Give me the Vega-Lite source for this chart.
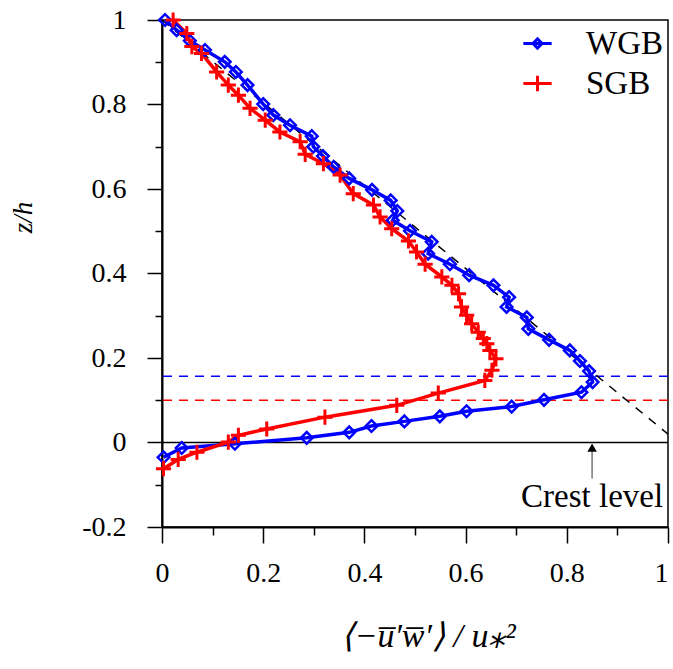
{
  "$schema": "https://vega.github.io/schema/vega-lite/v6.json",
  "width": 506,
  "height": 507,
  "autosize": "none",
  "padding": {"left": 162, "top": 20, "right": 5, "bottom": 142},
  "config": {"font": "Liberation Serif", "view": {"stroke": "black", "strokeWidth": 1.5},
    "axis": {"labelFont": "Liberation Serif", "titleFont": "Liberation Serif", "labelColor": "black", "titleColor": "black", "domainColor": "black", "tickColor": "black", "grid": false}},
  "resolve": {"axis": {"x": "independent", "y": "independent"}},
  "datasets": {
    "profiles": [
      {"series":"WGB","i":1,"x":0.006,"z":1.0},{"series":"WGB","i":2,"x":0.029,"z":0.976},{"series":"WGB","i":3,"x":0.055,"z":0.951},{"series":"WGB","i":4,"x":0.085,"z":0.929},{"series":"WGB","i":5,"x":0.124,"z":0.901},{"series":"WGB","i":6,"x":0.146,"z":0.877},{"series":"WGB","i":7,"x":0.169,"z":0.846},{"series":"WGB","i":8,"x":0.2,"z":0.801},{"series":"WGB","i":9,"x":0.22,"z":0.775},{"series":"WGB","i":10,"x":0.253,"z":0.751},{"series":"WGB","i":11,"x":0.296,"z":0.725},{"series":"WGB","i":12,"x":0.299,"z":0.7},{"series":"WGB","i":13,"x":0.318,"z":0.678},{"series":"WGB","i":14,"x":0.339,"z":0.652},{"series":"WGB","i":15,"x":0.37,"z":0.625},{"series":"WGB","i":16,"x":0.415,"z":0.598},{"series":"WGB","i":17,"x":0.452,"z":0.573},{"series":"WGB","i":18,"x":0.465,"z":0.548},{"series":"WGB","i":19,"x":0.456,"z":0.526},{"series":"WGB","i":20,"x":0.49,"z":0.501},{"series":"WGB","i":21,"x":0.533,"z":0.475},{"series":"WGB","i":22,"x":0.526,"z":0.447},{"series":"WGB","i":23,"x":0.569,"z":0.422},{"series":"WGB","i":24,"x":0.607,"z":0.396},{"series":"WGB","i":25,"x":0.655,"z":0.372},{"series":"WGB","i":26,"x":0.686,"z":0.344},{"series":"WGB","i":27,"x":0.681,"z":0.321},{"series":"WGB","i":28,"x":0.721,"z":0.296},{"series":"WGB","i":29,"x":0.724,"z":0.269},{"series":"WGB","i":30,"x":0.765,"z":0.243},{"series":"WGB","i":31,"x":0.806,"z":0.218},{"series":"WGB","i":32,"x":0.826,"z":0.193},{"series":"WGB","i":33,"x":0.844,"z":0.169},{"series":"WGB","i":34,"x":0.851,"z":0.143},{"series":"WGB","i":35,"x":0.829,"z":0.119},{"series":"WGB","i":36,"x":0.755,"z":0.101},{"series":"WGB","i":37,"x":0.691,"z":0.085},{"series":"WGB","i":38,"x":0.602,"z":0.074},{"series":"WGB","i":39,"x":0.549,"z":0.062},{"series":"WGB","i":40,"x":0.479,"z":0.05},{"series":"WGB","i":41,"x":0.414,"z":0.039},{"series":"WGB","i":42,"x":0.37,"z":0.024},{"series":"WGB","i":43,"x":0.286,"z":0.011},{"series":"WGB","i":44,"x":0.144,"z":-0.003},{"series":"WGB","i":45,"x":0.039,"z":-0.013},{"series":"WGB","i":46,"x":0.003,"z":-0.035},
      {"series":"SGB","i":1,"x":0.022,"z":1.0},{"series":"SGB","i":2,"x":0.049,"z":0.968},{"series":"SGB","i":3,"x":0.059,"z":0.937},{"series":"SGB","i":4,"x":0.078,"z":0.921},{"series":"SGB","i":5,"x":0.108,"z":0.877},{"series":"SGB","i":6,"x":0.131,"z":0.846},{"series":"SGB","i":7,"x":0.151,"z":0.822},{"series":"SGB","i":8,"x":0.174,"z":0.791},{"series":"SGB","i":9,"x":0.204,"z":0.763},{"series":"SGB","i":10,"x":0.233,"z":0.735},{"series":"SGB","i":11,"x":0.273,"z":0.712},{"series":"SGB","i":12,"x":0.283,"z":0.682},{"series":"SGB","i":13,"x":0.319,"z":0.66},{"series":"SGB","i":14,"x":0.352,"z":0.633},{"series":"SGB","i":15,"x":0.378,"z":0.589},{"series":"SGB","i":16,"x":0.418,"z":0.562},{"series":"SGB","i":17,"x":0.431,"z":0.534},{"series":"SGB","i":18,"x":0.454,"z":0.506},{"series":"SGB","i":19,"x":0.487,"z":0.477},{"series":"SGB","i":20,"x":0.503,"z":0.451},{"series":"SGB","i":21,"x":0.52,"z":0.422},{"series":"SGB","i":22,"x":0.553,"z":0.392},{"series":"SGB","i":23,"x":0.573,"z":0.372},{"series":"SGB","i":24,"x":0.586,"z":0.352},{"series":"SGB","i":25,"x":0.592,"z":0.321},{"series":"SGB","i":26,"x":0.602,"z":0.301},{"series":"SGB","i":27,"x":0.612,"z":0.281},{"series":"SGB","i":28,"x":0.625,"z":0.261},{"series":"SGB","i":29,"x":0.635,"z":0.246},{"series":"SGB","i":30,"x":0.642,"z":0.234},{"series":"SGB","i":31,"x":0.648,"z":0.218},{"series":"SGB","i":32,"x":0.66,"z":0.198},{"series":"SGB","i":33,"x":0.652,"z":0.171},{"series":"SGB","i":34,"x":0.638,"z":0.147},{"series":"SGB","i":35,"x":0.546,"z":0.117},{"series":"SGB","i":36,"x":0.464,"z":0.088},{"series":"SGB","i":37,"x":0.322,"z":0.06},{"series":"SGB","i":38,"x":0.207,"z":0.032},{"series":"SGB","i":39,"x":0.151,"z":0.017},{"series":"SGB","i":40,"x":0.131,"z":0.001},{"series":"SGB","i":41,"x":0.069,"z":-0.023},{"series":"SGB","i":42,"x":0.032,"z":-0.04},{"series":"SGB","i":43,"x":0.003,"z":-0.062}
    ]
  },
  "layer": [
    {
      "data": {"values": [{"x": 0, "z": 0}]},
      "mark": {"type": "rule", "color": "black", "strokeWidth": 1.5},
      "encoding": {
        "y": {"field": "z", "type": "quantitative", "scale": {"domain": [-0.2, 1], "nice": false, "zero": false},
          "axis": {"orient": "left", "title": "z/h", "titleFontStyle": "italic", "titleFontWeight": "normal", "titleFontSize": 27, "titlePadding": 44, "titleY": 197,
            "values": [-0.2, 0, 0.2, 0.4, 0.6, 0.8, 1],
            "labelExpr": "toString(datum.value)",
            "tickSize": 15, "labelFontSize": 28, "labelPadding": 21, "domainWidth": 2, "tickWidth": 1.5}}
      }
    },
    {
      "data": {"values": [{"z": 0.157, "series": "WGB"}, {"z": 0.1, "series": "SGB"}]},
      "mark": {"type": "rule", "strokeWidth": 1.5, "strokeDash": [9, 7]},
      "encoding": {
        "y": {"field": "z", "type": "quantitative", "axis": null},
        "color": {"field": "series", "type": "nominal", "scale": {"domain": ["WGB", "SGB"], "range": ["#0000ff", "#ff0000"]}}
      }
    },
    {
      "data": {"values": [{"x": 0, "z": 1}, {"x": 1, "z": 0.02}]},
      "mark": {"type": "line", "color": "black", "strokeWidth": 1.5, "strokeDash": [9, 8]},
      "encoding": {
        "x": {"field": "x", "type": "quantitative", "scale": {"domain": [0, 1], "nice": false, "zero": false},
          "axis": {"orient": "bottom", "title": "⟨−u̅′w̅′⟩ / u⁎²", "titleFontStyle": "italic", "titleFontWeight": "normal", "titleFontSize": 34, "titlePadding": 32, "titleX": 266,
            "values": [0, 0.2, 0.4, 0.6, 0.8, 1],
            "labelExpr": "toString(datum.value)",
            "labelAlign": {"condition": {"test": "datum.value == 1", "value": "right"}, "value": "center"},
            "tickSize": 16, "labelFontSize": 28, "labelPadding": 16, "domainWidth": 2, "tickWidth": 1.5, "labelFlush": false}},
        "y": {"field": "z", "type": "quantitative", "axis": null}
      }
    },
    {
      "data": {"name": "profiles"},
      "mark": {"type": "line", "strokeWidth": 3.5},
      "encoding": {
        "x": {"field": "x", "type": "quantitative", "axis": null},
        "y": {"field": "z", "type": "quantitative", "axis": null},
        "color": {"field": "series", "type": "nominal",
          "legend": {"title": null, "orient": "none", "legendX": 359, "legendY": 7, "labelFont": "Liberation Serif", "labelFontSize": 33, "labelColor": "black", "symbolSize": 800, "symbolStrokeWidth": 3, "symbolFillColor": "transparent", "rowPadding": 6, "labelOffset": 32,
            "encode": {"symbols": {"update": {"shape": {"signal": "datum.value === 'WGB' ? 'M-1,0H1M-0.32,0L0,-0.32L0.32,0L0,0.32Z' : 'M-1,0H1M0,-0.55V0.55'"}, "fill": {"value": "transparent"}}}}}},
        "order": {"field": "i", "type": "quantitative"}
      }
    },
    {
      "data": {"name": "profiles"},
      "transform": [{"filter": "datum.series === 'WGB'"}],
      "mark": {"type": "point", "shape": "diamond", "filled": false, "strokeWidth": 2.5, "opacity": 1, "size": 135},
      "encoding": {
        "x": {"field": "x", "type": "quantitative", "axis": null},
        "y": {"field": "z", "type": "quantitative", "axis": null},
        "color": {"field": "series", "type": "nominal"}
      }
    },
    {
      "data": {"name": "profiles"},
      "transform": [{"filter": "datum.series === 'SGB'"}],
      "mark": {"type": "point", "shape": "M-1,0H1M0,-1V1", "filled": false, "strokeWidth": 3, "opacity": 1, "size": 230},
      "encoding": {
        "x": {"field": "x", "type": "quantitative", "axis": null},
        "y": {"field": "z", "type": "quantitative", "axis": null},
        "color": {"field": "series", "type": "nominal"}
      }
    },
    {
      "data": {"values": [{"x": 0.85, "z1": -0.085, "z2": -0.018}]},
      "mark": {"type": "rule", "color": "#777777", "strokeWidth": 1.5},
      "encoding": {
        "x": {"field": "x", "type": "quantitative",
          "axis": {"orient": "bottom", "values": [0.1, 0.3, 0.5, 0.7, 0.9], "labels": false, "domain": false, "title": null, "tickSize": 8, "tickWidth": 1.5}},
        "y": {"field": "z1", "type": "quantitative",
          "axis": {"orient": "left", "values": [-0.1, 0.1, 0.3, 0.5, 0.7, 0.9], "labels": false, "domain": false, "title": null, "tickSize": 7, "tickWidth": 1.5}},
        "y2": {"field": "z2"}
      }
    },
    {
      "data": {"values": [{"x": 0.85, "z": -0.012}]},
      "mark": {"type": "point", "shape": "triangle-up", "filled": true, "color": "black", "size": 90, "opacity": 1},
      "encoding": {
        "x": {"field": "x", "type": "quantitative", "axis": null},
        "y": {"field": "z", "type": "quantitative", "axis": null}
      }
    },
    {
      "data": {"values": [{"x": 0.85, "z": -0.13, "t": "Crest level"}]},
      "mark": {"type": "text", "fontSize": 33, "font": "Liberation Serif", "color": "black", "baseline": "middle", "align": "center"},
      "encoding": {
        "x": {"field": "x", "type": "quantitative", "axis": null},
        "y": {"field": "z", "type": "quantitative", "axis": null},
        "text": {"field": "t"}
      }
    }
  ]
}
